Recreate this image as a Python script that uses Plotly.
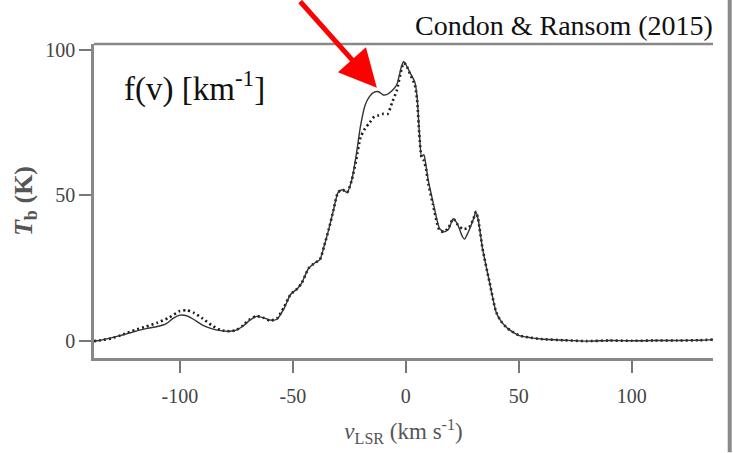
import plotly.graph_objects as go

# Velocity (km/s) and brightness temperature (K)
v_solid = [-138, -135, -130, -125, -120, -115, -110, -106, -103, -100, -97, -94, -90, -86, -82, -78,
           -75, -72, -69, -66, -63, -60, -57, -54, -51, -48, -46, -43, -40, -38, -36, -34, -32, -30,
           -28, -26, -24, -22, -20, -18, -16, -14, -12, -10, -8, -6, -4, -2, -1, 0, 2, 4, 5, 6, 7, 8,
           9, 10, 12, 14, 15, 17, 19, 21, 23, 25, 26, 28, 30, 31, 32, 34, 37, 40, 42, 45, 50, 55, 60,
           70, 80, 90, 100, 110, 120, 130, 136]
t_solid = [0, 0.3, 1.2, 2.2, 3.3, 4.3, 5.0, 6.0, 7.8, 8.9, 8.7, 7.5, 5.5, 4.3, 3.6, 3.4,
           3.8, 5.2, 7.2, 8.5, 8.0, 7.2, 7.5, 11, 16, 18, 20, 25, 27, 28, 33, 38.6, 45, 51,
           52, 51, 55, 63.5, 74, 81, 84, 85.5, 85.6, 84.5, 84.8, 86, 88, 94, 96, 95, 92, 89, 84, 72, 63.5, 64,
           60, 55, 48, 41, 38.6, 37.5, 38.5, 42, 40, 36, 35, 38, 42, 44.4, 42, 31.7, 20.5, 10, 7, 4.4, 2, 1.2, 0.7,
           0.3, 0, 0.2, 0.1, 0.2, 0.2, 0.3, 0.5]

v_dot = [-138, -135, -130, -125, -120, -115, -110, -105, -100, -97, -94, -90, -86, -82, -78,
         -75, -72, -69, -66, -63, -60, -57, -54, -51, -48, -46, -43, -40, -38, -36, -34, -32, -30,
         -28, -26, -24, -22, -20, -18, -16, -14, -12, -10, -8, -6, -4, -2, -1, 0, 2, 4, 5, 6, 7, 8,
         9, 10, 12, 14, 15, 17, 19, 21, 23, 25, 26, 28, 30, 31, 32, 34, 37, 40, 42, 45, 50, 55, 60,
         70, 80, 90, 100, 110, 120, 130, 136]
t_dot = [0, 0.3, 1.0, 2.3, 3.8, 5.0, 6.3, 8.0, 10.3, 10.6, 9.8, 7.8, 5.5, 3.8, 3.4,
         3.8, 5.4, 7.5, 8.6, 8.0, 7.0, 7.8, 11.5, 16, 18, 20, 25, 27, 28, 33, 38.6, 45, 51,
         52, 51, 55, 62, 70, 73, 75, 77, 77.5, 78, 78, 82, 86, 93, 95.5, 95, 91.5, 88, 83, 71, 63, 62,
         59, 54, 47, 40, 38, 37.5, 39, 42, 40, 38.6, 38.5, 39, 42, 44.4, 42, 31.7, 20.5, 10, 7, 4.4, 2, 1.2, 0.7,
         0.3, 0, 0.2, 0.1, 0.2, 0.2, 0.3, 0.5]

x_ticks = [-100, -50, 0, 50, 100]
x_tick_labels = ["-100", "-50", "0", "50", "100"]
y_ticks = [0, 50, 100]
y_tick_labels = ["0", "50", "100"]

SERIF = "Liberation Serif, Times New Roman, serif"

fig = go.Figure()
fig.add_trace(go.Scatter(x=v_dot, y=t_dot, mode="lines", line=dict(color="#1a1a1a", width=2.6, dash="2px,3px", shape="spline", smoothing=0.6), hoverinfo="skip"))
fig.add_trace(go.Scatter(x=v_solid, y=t_solid, mode="lines", line=dict(color="#333333", width=1.4, shape="spline", smoothing=0.6), hoverinfo="skip"))

fig.update_layout(
    width=733, height=453,
    margin=dict(l=94, r=20, t=44, b=93),
    paper_bgcolor="white", plot_bgcolor="white",
    showlegend=False,
    xaxis=dict(range=[-138, 136], tickvals=x_ticks, ticktext=x_tick_labels, ticks="outside", ticklen=12, tickwidth=1.5,
               tickcolor="#777", showline=True, linecolor="#888", linewidth=2.5, mirror=False,
               showgrid=False, zeroline=False, ticklabelstandoff=6,
               tickfont=dict(family=SERIF, size=20, color="#444"),
               title=dict(text="<i>v</i><sub>LSR</sub> (km s<sup>-1</sup>)", font=dict(family=SERIF, size=23, color="#555"), standoff=18)),
    yaxis=dict(range=[-5.8, 102], tickvals=y_ticks, ticktext=y_tick_labels, ticks="outside", ticklen=12, tickwidth=1.5,
               tickcolor="#777", showline=True, linecolor="#888", linewidth=2.5, mirror=False,
               showgrid=False, zeroline=False,
               tickfont=dict(family=SERIF, size=20, color="#444"),
               title=dict(text="<b><i>T</i><sub>b</sub> (K)</b>", font=dict(family=SERIF, size=26, color="#555"), standoff=6)),
    annotations=[
        dict(text="Condon &amp; Ransom (2015)", xref="paper", yref="paper", x=1.003, y=1.06, xanchor="right", yanchor="middle",
             showarrow=False, font=dict(family=SERIF, size=28, color="#111")),
        dict(text="f(v) [km<sup>-1</sup>]", xref="paper", yref="paper", x=0.045, y=0.865, xanchor="left", yanchor="middle",
             showarrow=False, font=dict(family=SERIF, size=33, color="#111")),
        dict(x=-12.8, y=87, xref="x", yref="y", text="", showarrow=True, ax=-78, ay=-92,
             arrowhead=2, arrowsize=1.5, arrowwidth=5, arrowcolor="#ff0000"),
    ],
    shapes=[
        dict(type="line", xref="paper", yref="paper", x0=0, x1=1, y0=1, y1=1,
             line=dict(color="#888", width=2.5)),
        dict(type="line", xref="paper", yref="paper", x0=1.027, x1=1.027, y0=-0.3, y1=1.15,
             line=dict(color="#8a8a8a", width=4)),
    ],
)

fig.write_html("out.html")
